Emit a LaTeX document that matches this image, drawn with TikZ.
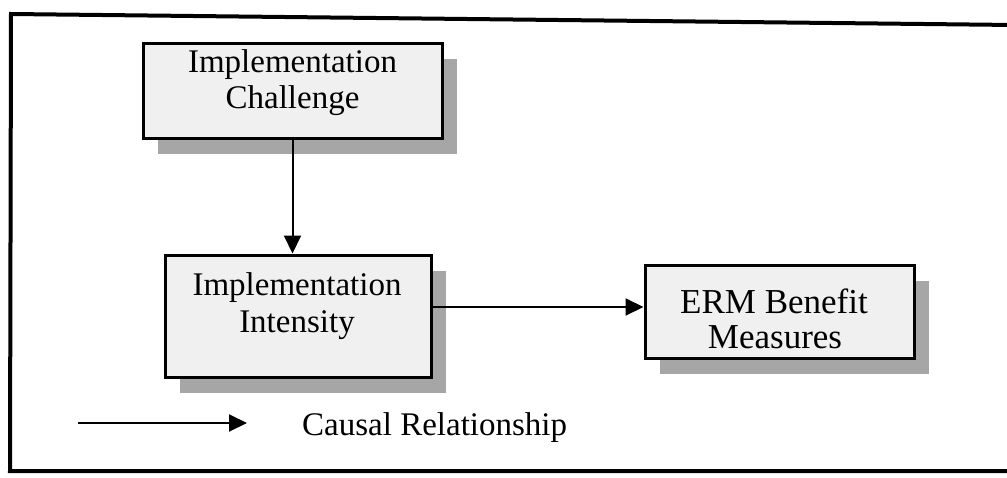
\documentclass[tikz,border=0pt]{standalone}
\usepackage{fontspec}
\setmainfont{Liberation Serif}
\usetikzlibrary{arrows.meta,shadows}
\begin{document}
\begin{tikzpicture}[x=1pt,y=-1pt,
  box/.style={draw=black, line width=3pt, fill=black!6, inner sep=0pt,
    drop shadow={shadow xshift=15pt, shadow yshift=-16pt, fill=black!35, opacity=1}},
  txt/.style={inner sep=0pt, anchor=base, font=\fontsize{33}{37}\selectfont},
  bigtxt/.style={txt, font=\fontsize{35}{35}\selectfont},
  arr/.style={line width=2pt, -{Triangle[length=18pt,width=17pt]}},
  frame/.style={line width=4pt, line join=miter}]
\useasboundingbox (0,0) rectangle (1007,477);

% outer frame, open towards the right edge
\draw[frame] (1015,25) -- (11,14) -- (10,471) -- (1015,471);

% boxes
\node[box, minimum width=299pt, minimum height=95pt] (chal) at (292.5,90.5) {};
\node[box, minimum width=266pt, minimum height=122pt] (inten) at (298,316) {};
\node[box, minimum width=269pt, minimum height=93pt] (bene) at (779.5,311.5) {};

% box texts
\node[txt] (chal1) at (292.5,72) {Implementation};
\node[txt] (chal2) at (292.5,108) {Challenge};
\node[txt] (inten1) at (297,295) {Implementation};
\node[txt] (inten2) at (297,332) {Intensity};
\node[bigtxt] (bene1) at (774,313) {ERM Benefit};
\node[bigtxt] (bene2) at (775,348) {Measures};

% causal links
\draw[arr] (chal.south) -- (chal.south |- inten.north);
\draw[arr] ([yshift=9pt]inten.east) -- ([yshift=9pt]inten.east -| bene.west);

% legend
\coordinate (legA) at (78,423);
\coordinate (legB) at (247,423);
\draw[arr] (legA) -- (legB);
\node[txt, anchor=base west, font=\fontsize{33}{37}\selectfont] (legtxt) at (302,435) {Causal Relationship};
\end{tikzpicture}
\end{document}
